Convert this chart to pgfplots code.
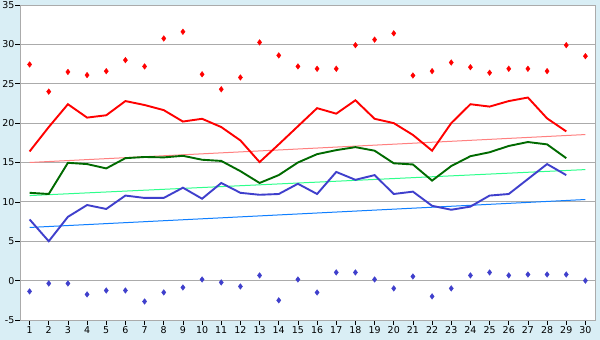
\documentclass[border=0pt]{standalone}
\usepackage{pgfplots}
\pgfplotsset{compat=1.18}
\usepackage{fontspec}
\setmainfont{DejaVu Sans}
\definecolor{bg}{HTML}{D9EEF5}
\definecolor{gridc}{HTML}{ABABAB}
\definecolor{redl}{HTML}{FF0000}
\definecolor{greenl}{HTML}{006A00}
\definecolor{bluel}{HTML}{3F3FCC}
\definecolor{redt}{HTML}{FF8080}
\definecolor{greent}{HTML}{2EFF8C}
\definecolor{bluet}{HTML}{0F7FFF}
\begin{document}
\begin{tikzpicture}
\fill[bg] (-20bp,-20bp) rectangle (580bp,320bp);
\begin{axis}[
  scale only axis, width=575bp, height=315bp,
  xmin=0.5, xmax=30.5, ymin=-5, ymax=35,
  xtick={1,...,30}, ytick={-5,0,...,35},
  axis background/.style={fill=white},
  axis line style={gridc},
  ymajorgrids, major grid style={gridc, line width=0.8bp},
  tick align=outside, tick style={black, line width=0.6bp},
  xtick pos=bottom, ytick pos=left,
  major tick length=4.5bp,
  /pgf/number format/assume math mode=true,
  tick label style={font=\fontsize{9.5}{11}\selectfont, inner sep=1bp},
  xticklabel style={yshift=-1bp},
  clip=false,
]
% trend lines
\addplot[redt, line width=1bp] coordinates {(1,15.0) (30,18.55)};
\addplot[greent, line width=1bp] coordinates {(1,10.8) (30,14.1)};
\addplot[bluet, line width=1bp] coordinates {(1,6.75) (30,10.3)};
% red line
\addplot[redl, line width=1.9bp] coordinates {
(1,16.4)(2,19.5)(3,22.4)(4,20.7)(5,21.0)(6,22.8)(7,22.3)(8,21.65)(9,20.2)(10,20.55)
(11,19.5)(12,17.8)(13,15.05)(14,17.3)(15,19.6)(16,21.9)(17,21.2)(18,22.9)(19,20.55)(20,20.0)
(21,18.5)(22,16.5)(23,20.0)(24,22.4)(25,22.1)(26,22.8)(27,23.25)(28,20.6)(29,18.95)};
% green line
\addplot[greenl, line width=1.9bp] coordinates {
(1,11.15)(2,11.0)(3,14.96)(4,14.8)(5,14.25)(6,15.55)(7,15.7)(8,15.65)(9,15.85)(10,15.35)
(11,15.2)(12,13.9)(13,12.4)(14,13.4)(15,15.0)(16,16.06)(17,16.57)(18,16.95)(19,16.5)(20,14.9)
(21,14.75)(22,12.7)(23,14.55)(24,15.8)(25,16.3)(26,17.1)(27,17.6)(28,17.3)(29,15.55)};
% blue line
\addplot[bluel, line width=1.9bp] coordinates {
(1,7.77)(2,5.0)(3,8.1)(4,9.6)(5,9.1)(6,10.8)(7,10.5)(8,10.5)(9,11.8)(10,10.4)
(11,12.4)(12,11.15)(13,10.9)(14,11.0)(15,12.3)(16,11.0)(17,13.8)(18,12.8)(19,13.4)(20,11.0)
(21,11.3)(22,9.5)(23,9.0)(24,9.4)(25,10.8)(26,11.0)(27,12.9)(28,14.8)(29,13.4)};
% red markers
\addplot[only marks, mark=diamond*, mark size=2.8bp, redl, mark options={fill=redl}] coordinates {
(1,27.45)(2,24.0)(3,26.5)(4,26.1)(5,26.6)(6,28.0)(7,27.2)(8,30.75)(9,31.6)(10,26.2)
(11,24.3)(12,25.8)(13,30.25)(14,28.6)(15,27.2)(16,26.9)(17,26.9)(18,29.9)(19,30.6)(20,31.4)
(21,26.05)(22,26.6)(23,27.7)(24,27.1)(25,26.4)(26,26.9)(27,26.9)(28,26.6)(29,29.9)(30,28.5)};
% blue markers
\addplot[only marks, mark=diamond*, mark size=2.8bp, bluel, mark options={fill=bluel}] coordinates {
(1,-1.37)(2,-0.36)(3,-0.36)(4,-1.75)(5,-1.25)(6,-1.25)(7,-2.65)(8,-1.5)(9,-0.87)(10,0.15)
(11,-0.23)(12,-0.74)(13,0.66)(14,-2.5)(15,0.15)(16,-1.5)(17,1.04)(18,1.04)(19,0.15)(20,-0.99)
(21,0.53)(22,-2.0)(23,-0.99)(24,0.66)(25,1.04)(26,0.66)(27,0.78)(28,0.78)(29,0.78)(30,0.0)};
\end{axis}
\pgfresetboundingbox
\path[use as bounding box] (-20bp,-20bp) rectangle (580bp,320bp);
\end{tikzpicture}
\end{document}
